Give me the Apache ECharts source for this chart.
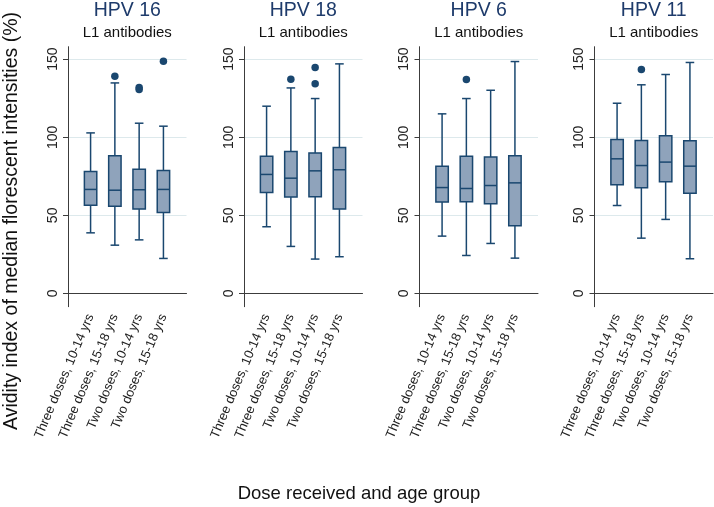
<!DOCTYPE html>
<html>
<head>
<meta charset="utf-8">
<script src="https://cdn.jsdelivr.net/npm/echarts@6/dist/echarts.min.js"></script>
<style>
html,body{margin:0;padding:0;background:#fff;}
#chart{width:714px;height:507px;}
</style>
</head>
<body>
<div id="chart"></div>
<script>
// ---- Data ----
const categories = ['Three doses, 10-14 yrs', 'Three doses, 15-18 yrs', 'Two doses, 10-14 yrs', 'Two doses, 15-18 yrs'];
const panelTitles = ['HPV 16', 'HPV 18', 'HPV 6', 'HPV 11'];
const panelSubtitle = 'L1 antibodies';
const yTicks = [0, 50, 100, 150];

// each row: [lower whisker, Q1, median, Q3, upper whisker]
const hpv16Stats = [
  [38.8, 56.5, 66.6, 78.1, 102.8],
  [30.9, 55.9, 66.1, 88.1, 134.8],
  [34.3, 54.0, 66.4, 79.6, 109.0],
  [22.4, 51.8, 66.6, 78.7, 107.1]
];
const hpv18Stats = [
  [42.7, 64.6, 76.2, 87.9, 119.9],
  [30.1, 61.7, 73.8, 90.9, 131.6],
  [22.0, 61.9, 78.5, 90.0, 124.8],
  [23.5, 54.0, 79.2, 93.4, 147.0]
];
const hpv6Stats = [
  [36.7, 58.5, 67.8, 81.5, 115.0],
  [24.3, 58.7, 67.2, 87.9, 124.8],
  [32.0, 57.4, 69.1, 87.3, 130.1],
  [22.6, 43.3, 70.8, 88.1, 148.5]
];
const hpv11Stats = [
  [56.3, 69.6, 86.2, 98.6, 121.8],
  [35.4, 67.6, 81.9, 97.9, 133.6],
  [47.4, 71.5, 84.1, 100.9, 140.2],
  [22.2, 64.2, 81.5, 97.7, 147.9]
];
// outliers: [category index (0-based), value]
const hpv16Outliers = [[1, 139.1], [2, 131.9], [2, 130.6], [3, 148.7]];
const hpv18Outliers = [[1, 137.2], [2, 144.7], [2, 134.2]];
const hpv6Outliers = [[1, 137.0]];
const hpv11Outliers = [[1, 143.4]];

const panelStats = [hpv16Stats, hpv18Stats, hpv6Stats, hpv11Stats];
const panelOutliers = [hpv16Outliers, hpv18Outliers, hpv6Outliers, hpv11Outliers];

// ---- Styling / layout ----
const FONT = 'Liberation Sans, Arial, Helvetica, sans-serif';
const NAVY = '#1a476f';
const BOXFILL = '#8fa3bb';
const AXIS = '#3c3c3c';
const GRID = '#dde9ec';
const gridLefts = [68, 244, 419.5, 594.5];
const gridW = 118.5, gridTop = 46.7, gridH = 260;

function renderBox(params, api) {
  const x = api.value(0);
  const pLo = api.coord([x, api.value(1)]);
  const pQ1 = api.coord([x, api.value(2)]);
  const pMed = api.coord([x, api.value(3)]);
  const pQ3 = api.coord([x, api.value(4)]);
  const pHi = api.coord([x, api.value(5)]);
  const cx = pMed[0];
  const halfW = 6.2, capHalf = 4.3;
  const ls = {stroke: NAVY, lineWidth: 1.5};
  return {
    type: 'group',
    children: [
      {type: 'line', shape: {x1: cx, y1: pHi[1], x2: cx, y2: pQ3[1]}, style: ls},
      {type: 'line', shape: {x1: cx, y1: pQ1[1], x2: cx, y2: pLo[1]}, style: ls},
      {type: 'line', shape: {x1: cx - capHalf, y1: pHi[1], x2: cx + capHalf, y2: pHi[1]}, style: ls},
      {type: 'line', shape: {x1: cx - capHalf, y1: pLo[1], x2: cx + capHalf, y2: pLo[1]}, style: ls},
      {type: 'rect', shape: {x: cx - halfW, y: pQ3[1], width: halfW * 2, height: pQ1[1] - pQ3[1]},
        style: {fill: BOXFILL, stroke: NAVY, lineWidth: 1.5}},
      {type: 'line', shape: {x1: cx - halfW, y1: pMed[1], x2: cx + halfW, y2: pMed[1]}, style: ls}
    ]
  };
}

const grids = [], xAxes = [], yAxes = [], series = [], titles = [];
for (let i = 0; i < 4; i++) {
  const centerX = gridLefts[i] + gridW / 2;
  grids.push({left: gridLefts[i], top: gridTop, width: gridW, height: gridH, containLabel: false});
  xAxes.push({
    gridIndex: i, type: 'value', min: 0.07, max: 4.95,
    axisLine: {show: true, lineStyle: {color: AXIS, width: 1}},
    axisTick: {show: false},
    splitLine: {show: false},
    axisLabel: {
      customValues: [1, 2, 3, 4],
      formatter: v => categories[Math.round(v) - 1] || '',
      rotate: 67, margin: 8, fontSize: 13, color: '#222', fontFamily: FONT
    }
  });
  yAxes.push({
    gridIndex: i, type: 'value', min: -8.5, max: 158,
    axisLine: {show: true, lineStyle: {color: AXIS, width: 1}},
    axisTick: {show: true, customValues: yTicks, length: 5, lineStyle: {color: AXIS}},
    axisLabel: {customValues: yTicks, rotate: 90, margin: 8, fontSize: 14, color: '#222', fontFamily: FONT},
    splitLine: {show: true, lineStyle: {color: GRID, width: 1}}
  });
  series.push({
    type: 'custom', xAxisIndex: i, yAxisIndex: i,
    renderItem: renderBox,
    encode: {x: 0, y: [1, 2, 3, 4, 5]},
    data: panelStats[i].map((s, k) => [k + 1].concat(s)),
    z: 3
  });
  series.push({
    type: 'scatter', xAxisIndex: i, yAxisIndex: i,
    symbol: 'circle', symbolSize: 7.5,
    itemStyle: {color: NAVY, opacity: 1},
    data: panelOutliers[i].map(o => [o[0] + 1, o[1]]),
    z: 4
  });
  titles.push({
    text: panelTitles[i], left: centerX, top: 1, padding: 0, textAlign: 'center',
    textStyle: {fontSize: 19.5, fontWeight: 'normal', color: '#1e3b6b', fontFamily: FONT}
  });
  titles.push({
    text: panelSubtitle, left: centerX, top: 25, padding: 0, textAlign: 'center',
    textStyle: {fontSize: 15, fontWeight: 'normal', color: '#111', fontFamily: FONT}
  });
}

const chart = echarts.init(document.getElementById('chart'), null, {renderer: 'canvas'});
chart.setOption({
  backgroundColor: '#ffffff',
  animation: false,
  title: titles,
  grid: grids,
  xAxis: xAxes,
  yAxis: yAxes,
  series: series,
  graphic: [
    {type: 'text', x: 12, y: 221, rotation: Math.PI / 2,
      style: {text: 'Avidity index of median florescent intensities (%)', fontSize: 19.5, fill: '#111',
        fontFamily: FONT, align: 'center', verticalAlign: 'middle'}},
    {type: 'text', x: 359, y: 494,
      style: {text: 'Dose received and age group', fontSize: 18.5, fill: '#111',
        fontFamily: FONT, align: 'center', verticalAlign: 'middle'}}
  ]
});
</script>
</body>
</html>
